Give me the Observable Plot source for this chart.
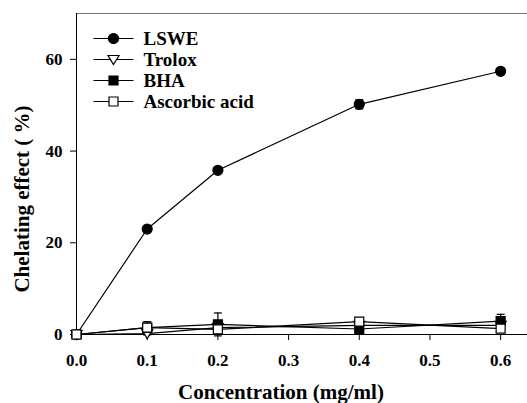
<!DOCTYPE html>
<html>
<head>
<meta charset="utf-8">
<script src="https://cdn.jsdelivr.net/npm/d3@7"></script>
<script src="https://cdn.jsdelivr.net/npm/@observablehq/plot@0.6"></script>
<style>
  html, body { margin: 0; padding: 0; background: white; }
  #chart svg, #chart svg text { font-family: "Liberation Serif", "Times New Roman", serif !important; font-weight: bold; }
</style>
</head>
<body>
<div id="chart"></div>
<script>
const concentrations = [0, 0.1, 0.2, 0.4, 0.6];
const seriesNames = ["LSWE", "Trolox", "BHA", "Ascorbic acid"];
const lswe = [0, 23.0, 35.8, 50.2, 57.4];
const lsweErr = [0, 0.5, 0.6, 1.0, 0.6];
const trolox = [0, 0.2, 1.5, 2.0, 2.0];
const troloxErr = [0, 0.3, 0.3, 0.3, 0.3];
const bha = [0, 1.5, 2.2, 1.2, 2.9];
const bhaErr = [0, 0.6, 2.5, 0.5, 1.5];
const ascorbic = [0, 1.5, 1.1, 2.8, 1.3];
const ascorbicErr = [0, 1.3, 0.5, 0.4, 0.5];
const yTicks = [0, 20, 40, 60];
const xTicks = [0, 0.1, 0.2, 0.3, 0.4, 0.5, 0.6];
const xLabel = "Concentration (mg/ml)";
const yLabel = "Chelating effect ( %)";

const values = [lswe, trolox, bha, ascorbic];
const errors = [lsweErr, troloxErr, bhaErr, ascorbicErr];
const rows = [];
seriesNames.forEach((s, i) => {
  concentrations.forEach((c, j) => {
    rows.push({series: s, si: i, x: c, y: values[i][j], e: errors[i][j]});
  });
});

const sq = {draw(ctx) { ctx.moveTo(-4.5, -4.5); ctx.lineTo(4.5, -4.5); ctx.lineTo(4.5, 4.5); ctx.lineTo(-4.5, 4.5); ctx.closePath(); }};
const triDown = {draw(ctx) { ctx.moveTo(0, 5); ctx.lineTo(5.5, -4); ctx.lineTo(-5.5, -4); ctx.closePath(); }};
const circ = {draw(ctx) { ctx.moveTo(5, 0); ctx.arc(0, 0, 5, 0, 2 * Math.PI); ctx.closePath(); }};
const cap = {draw(ctx) { ctx.moveTo(-4, 0); ctx.lineTo(4, 0); }};
const seg = {draw(ctx) { ctx.moveTo(-20, 0); ctx.lineTo(20, 0); }};
const symbols = [circ, triDown, sq, sq];
const fills = ["black", "white", "black", "white"];

const marks = [
  Plot.ruleY([0], {stroke: "black", strokeWidth: 1}),
  Plot.ruleY([70], {stroke: "#777", strokeWidth: 1.2}),
  Plot.ruleX([0], {stroke: "black", strokeWidth: 1}),
  Plot.axisY({ticks: yTicks, tickSize: 6, tickPadding: 8, label: null, fontSize: 17}),
  Plot.axisX({ticks: xTicks, tickFormat: d3.format(".1f"), tickSize: 6, tickPadding: 13, label: null, fontSize: 17}),
  Plot.text([yLabel], {frameAnchor: "left", textAnchor: "middle", dx: -54, dy: 25, rotate: -90, fontSize: 21, fontWeight: "bold", fill: "black"}),
  Plot.text([xLabel], {frameAnchor: "bottom", textAnchor: "middle", dx: -21, dy: 58, fontSize: 21, fontWeight: "bold", fill: "black", lineAnchor: "middle"}),
  Plot.line(rows, {x: "x", y: "y", z: "series", stroke: "black", strokeWidth: 1.2}),
  Plot.ruleX(rows.filter(d => d.e > 0), {x: "x", y1: d => d.y - d.e, y2: d => d.y + d.e, stroke: "black", strokeWidth: 1.2}),
  Plot.dot(rows.filter(d => d.e > 0), {x: "x", y: d => d.y + d.e, symbol: cap, stroke: "black", strokeWidth: 1.2, fill: "none"}),
  Plot.dot(rows.filter(d => d.e > 0), {x: "x", y: d => d.y - d.e, symbol: cap, stroke: "black", strokeWidth: 1.2, fill: "none"})
];
seriesNames.forEach((s, i) => {
  marks.push(Plot.dot(rows.filter(d => d.si === i), {x: "x", y: "y", symbol: symbols[i], fill: fills[i], stroke: "black", strokeWidth: 1.2}));
});
// legend
seriesNames.forEach((s, i) => {
  const dy = 25 + 21 * i;
  marks.push(Plot.dot([s], {frameAnchor: "top-left", dx: 37, dy, symbol: seg, stroke: "black", strokeWidth: 1.2, fill: "none"}));
  marks.push(Plot.dot([s], {frameAnchor: "top-left", dx: 37, dy, symbol: symbols[i], fill: fills[i], stroke: "black", strokeWidth: 1.2}));
  marks.push(Plot.text([s], {frameAnchor: "top-left", dx: 67, dy, text: d => d, textAnchor: "start", lineAnchor: "middle", fontSize: 19, fontWeight: "bold", fill: "black"}));
});

const chart = Plot.plot({
  width: 527,
  height: 403,
  marginLeft: 76,
  marginRight: 0,
  marginTop: 13,
  marginBottom: 69,
  x: {domain: [0, 0.638]},
  y: {domain: [0, 70]},
  style: {fontFamily: "Liberation Serif, serif", fontWeight: "bold", color: "black", background: "white", overflow: "visible"},
  marks
});
document.getElementById("chart").appendChild(chart);
</script>
</body>
</html>
